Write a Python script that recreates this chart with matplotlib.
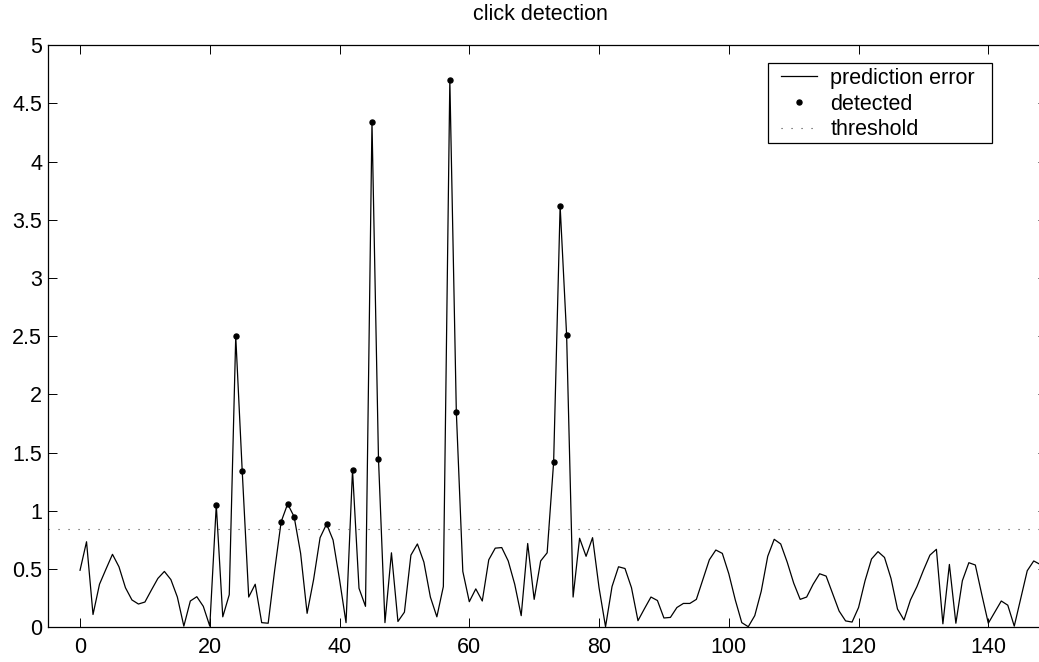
import matplotlib
matplotlib.use("Agg")
import matplotlib.pyplot as plt
from matplotlib.patches import Rectangle
from matplotlib.lines import Line2D
import numpy as np

plt.rcParams['font.family'] = ['Liberation Sans', 'DejaVu Sans']
plt.rcParams['lines.scale_dashes'] = False

title = "click detection"
series_labels = ["prediction error", "detected", "threshold"]

error_values = [
    0.49, 0.735, 0.11, 0.37, 0.50, 0.627, 0.52, 0.34, 0.235, 0.20,
    0.217, 0.32, 0.42, 0.48, 0.41, 0.26, 0.01, 0.226, 0.263, 0.18,
    0.01, 1.05, 0.09, 0.28, 2.50, 1.34, 0.26, 0.37, 0.04, 0.035,
    0.49, 0.907, 1.06, 0.95, 0.635, 0.12, 0.41, 0.77, 0.887, 0.75,
    0.41, 0.04, 1.35, 0.335, 0.18, 4.34, 1.45, 0.04, 0.64, 0.05,
    0.13, 0.62, 0.716, 0.56, 0.26, 0.09, 0.35, 4.70, 1.85, 0.48,
    0.22, 0.33, 0.226, 0.58, 0.68, 0.685, 0.57, 0.37, 0.10, 0.72,
    0.24, 0.57, 0.64, 1.42, 3.62, 2.51, 0.26, 0.765, 0.61, 0.77,
    0.34, 0.005, 0.35, 0.52, 0.505, 0.34, 0.057, 0.16, 0.26, 0.23,
    0.08, 0.085, 0.17, 0.205, 0.205, 0.24, 0.41, 0.58, 0.664, 0.635,
    0.46, 0.235, 0.04, 0.005, 0.10, 0.31, 0.61, 0.756, 0.716, 0.56,
    0.38, 0.24, 0.26, 0.37, 0.46, 0.44, 0.29, 0.14, 0.055, 0.045,
    0.17, 0.40, 0.587, 0.65, 0.60, 0.42, 0.157, 0.063, 0.235, 0.35,
    0.49, 0.62, 0.67, 0.03, 0.54, 0.035, 0.40, 0.555, 0.535, 0.28,
    0.035, 0.13, 0.226, 0.19, 0.01, 0.25, 0.486, 0.57, 0.54,
]
sample_index = list(range(len(error_values)))
detected_index = [21, 24, 25, 31, 32, 33, 38, 42, 45, 46, 57, 58, 73, 74, 75]
threshold = 0.845

x_ticks = [0, 20, 40, 60, 80, 100, 120, 140]
y_ticks = [0, 0.5, 1, 1.5, 2, 2.5, 3, 3.5, 4, 4.5, 5]
y_ticklabels = ["0", "0.5", "1", "1.5", "2", "2.5", "3", "3.5", "4", "4.5", "5"]

W, H = 1039, 662
fig = plt.figure(figsize=(W / 100, H / 100), dpi=100)
ax_left, ax_right, ax_top, ax_bottom = 47.6, 1046.7, 45.3, 627.3
ax = fig.add_axes([ax_left / W, 1 - ax_bottom / H,
                   (ax_right - ax_left) / W, (ax_bottom - ax_top) / H])

FS = 15.5
ax.plot(sample_index, error_values, color='black', lw=0.9)
ax.plot(detected_index, [error_values[i] for i in detected_index],
        linestyle='none', marker='o', markersize=3.6, color='black')
ax.axhline(threshold, color='#444444', lw=0.8, linestyle=(0, (0.8, 6.4)))

ax.set_xlim(-5, 149)
ax.set_ylim(0, 5)
ax.set_xticks(x_ticks)
ax.set_xticklabels([str(t) for t in x_ticks])
ax.set_yticks(y_ticks)
ax.set_yticklabels(y_ticklabels)
ax.tick_params(direction='in', length=6.8, width=0.7, top=True, right=True,
               labelsize=FS, colors='black')
ax.tick_params(axis='x', pad=7)
ax.tick_params(axis='y', pad=4)
for s in ax.spines.values():
    s.set_linewidth(0.9)
    s.set_color('black')

fig.text(540 / W, 1 - 14 / H, title, ha='center', va='center', fontsize=FS)

handles = [
    Line2D([], [], color='black', lw=0.9),
    Line2D([], [], linestyle='none', marker='o', markersize=3.6, color='black'),
    Line2D([], [], color='#444444', lw=0.8, linestyle=(0, (0.8, 6.4))),
]
leg = fig.legend(handles, series_labels, loc='upper left',
                 bbox_to_anchor=(781 / W, 1 - 68 / H), bbox_transform=fig.transFigure,
                 frameon=False, borderpad=0, borderaxespad=0, fontsize=FS,
                 handlelength=1.67, handletextpad=0.62, labelspacing=0.21)
fig.add_artist(Rectangle((768 / W, 1 - 143.3 / H), (991.7 - 768) / W, (143.3 - 63.3) / H,
                         transform=fig.transFigure, fill=False, edgecolor='black', lw=0.9))

fig.savefig("out.png", dpi=100)
